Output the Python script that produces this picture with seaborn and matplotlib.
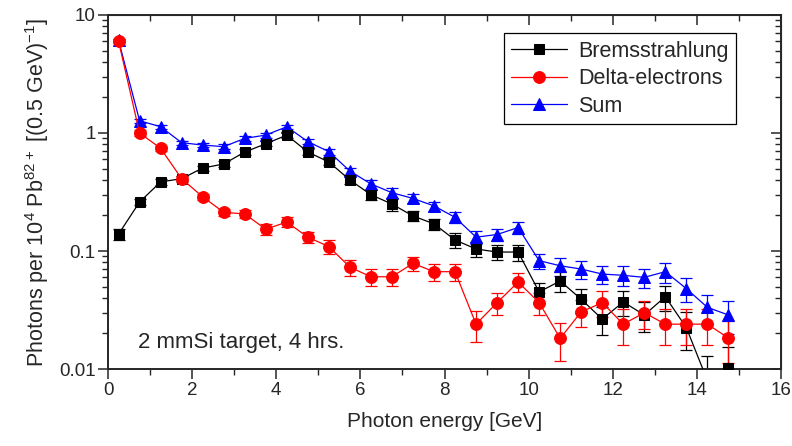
import numpy as np
import pandas as pd
import matplotlib
matplotlib.use("Agg")
import matplotlib.pyplot as plt
import matplotlib.ticker as mtick
import seaborn as sns

# bin centres (0.5 GeV bins)
energy = [0.25, 0.75, 1.25, 1.75, 2.25, 2.75, 3.25, 3.75, 4.25, 4.75,
          5.25, 5.75, 6.25, 6.75, 7.25, 7.75, 8.25, 8.75, 9.25, 9.75,
          10.25, 10.75, 11.25, 11.75, 12.25, 12.75, 13.25, 13.75, 14.25, 14.75]

brems = [0.139, 0.26, 0.385, 0.41, 0.505, 0.546, 0.69, 0.81, 0.96, 0.69,
         0.568, 0.40, 0.30, 0.25, 0.198, 0.17, 0.124, 0.104, 0.098, 0.098,
         0.045, 0.0557, 0.039, 0.0265, 0.037, 0.0287, 0.041, 0.0224, 0.008, 0.0103]
brems_err = [0.015, 0.015, 0.02, 0.02, 0.025, 0.03, 0.035, 0.04, 0.05, 0.04,
             0.035, 0.03, 0.03, 0.03, 0.02, 0.018, 0.017, 0.015, 0.014, 0.015,
             0.009, 0.011, 0.009, 0.007, 0.009, 0.008, 0.01, 0.008, 0.005, 0.005]

delta = [6.0, 1.0, 0.742, 0.41, 0.288, 0.213, 0.206, 0.153, 0.176, 0.131,
         0.109, 0.073, 0.0605, 0.0605, 0.0786, 0.0668, 0.0668, 0.024, 0.0365, 0.0546,
         0.0365, 0.0182, 0.0305, 0.0365, 0.024, 0.030, 0.024, 0.024, 0.024, 0.0183]
delta_err = [0.2, 0.05, 0.04, 0.025, 0.018, 0.015, 0.015, 0.015, 0.017, 0.015,
             0.014, 0.011, 0.01, 0.01, 0.011, 0.011, 0.011, 0.007, 0.008, 0.01,
             0.008, 0.0065, 0.008, 0.009, 0.008, 0.008, 0.008, 0.008, 0.008, 0.007]

total = [6.1, 1.27, 1.13, 0.828, 0.79, 0.766, 0.90, 0.96, 1.13, 0.845,
         0.695, 0.476, 0.37, 0.312, 0.279, 0.241, 0.193, 0.131, 0.138, 0.158,
         0.0828, 0.075, 0.0703, 0.0638, 0.0622, 0.0598, 0.0668, 0.048, 0.0333, 0.0287]
total_err = [0.2, 0.05, 0.045, 0.035, 0.035, 0.035, 0.04, 0.045, 0.05, 0.045,
             0.04, 0.032, 0.032, 0.032, 0.023, 0.021, 0.02, 0.017, 0.016, 0.018,
             0.012, 0.013, 0.012, 0.011, 0.012, 0.011, 0.013, 0.011, 0.009, 0.009]

sns.set_style("ticks")
plt.rcParams["font.family"] = ["Liberation Sans", "DejaVu Sans"]
plt.rcParams["mathtext.fontset"] = "custom"
plt.rcParams["mathtext.rm"] = "Liberation Sans"

df = pd.DataFrame({"energy": energy, "brems": brems, "delta": delta, "total": total})

fig = plt.figure(figsize=(7.92, 4.46), dpi=100)
ax = fig.add_axes([0.1364, 0.1726, 0.8497, 0.7938])

series = [
    ("total", total_err, "#0000ff", "^", 9, "Sum"),
    ("brems", brems_err, "black", "s", 7.5, "Bremsstrahlung"),
    ("delta", delta_err, "#ff0000", "o", 8.5, "Delta-electrons"),
]
for col, err, color, mk, ms, label in series:
    ax.errorbar(df["energy"], df[col], yerr=err, fmt="none", ecolor=color,
                elinewidth=0.9, capsize=4, capthick=0.9, zorder=2)
    sns.lineplot(data=df, x="energy", y=col, ax=ax, color=color, marker=mk,
                 markersize=ms, markeredgecolor=color, linewidth=0.9,
                 label=label, zorder=3)

ax.set_yscale("log")
ax.set_xlim(0, 16)
ax.set_ylim(0.01, 10)
ax.xaxis.set_major_locator(mtick.MultipleLocator(2))
ax.xaxis.set_minor_locator(mtick.MultipleLocator(1))
ax.yaxis.set_major_formatter(mtick.FuncFormatter(lambda v, p: f"{v:g}"))
ax.yaxis.set_minor_formatter(mtick.NullFormatter())
ax.tick_params(which="major", direction="out", length=7, width=1.1, labelsize=13.5, pad=2)
ax.tick_params(which="minor", direction="out", length=4, width=1.0)

for sp in ax.spines.values():
    sp.set_linewidth(1.4)
    sp.set_visible(True)

top = ax.secondary_xaxis("top")
top.xaxis.set_major_locator(mtick.MultipleLocator(2))
top.xaxis.set_minor_locator(mtick.MultipleLocator(1))
top.tick_params(which="major", direction="in", length=7, width=1.1, labeltop=False)
top.tick_params(which="minor", direction="in", length=4, width=1.0)
right = ax.secondary_yaxis("right")
right.tick_params(which="major", direction="in", length=7, width=1.1, labelright=False)
right.tick_params(which="minor", direction="in", length=4, width=1.0)
right.yaxis.set_minor_formatter(mtick.NullFormatter())

ax.set_xlabel("Photon energy [GeV]", fontsize=15, labelpad=10)
ax.set_ylabel(r"Photons per 10$^{4}$ Pb$^{82+}$ [(0.5 GeV)$^{-1}$]",
              fontsize=15.5, labelpad=6)

ax.text(0.045, 0.045, "2 mmSi target, 4 hrs.", transform=ax.transAxes,
        fontsize=16, ha="left", va="bottom")

h, l = ax.get_legend_handles_labels()
order = [l.index("Bremsstrahlung"), l.index("Delta-electrons"), l.index("Sum")]
leg = ax.legend([h[i] for i in order], [l[i] for i in order], loc="upper right",
                bbox_to_anchor=(0.933, 0.948), borderaxespad=0, fontsize=15.5,
                fancybox=False, edgecolor="black", framealpha=1,
                handlelength=2.6, labelspacing=0.3, borderpad=0.35, handletextpad=0.5)
leg.get_frame().set_linewidth(0.9)

fig.savefig("out.png", dpi=100)
